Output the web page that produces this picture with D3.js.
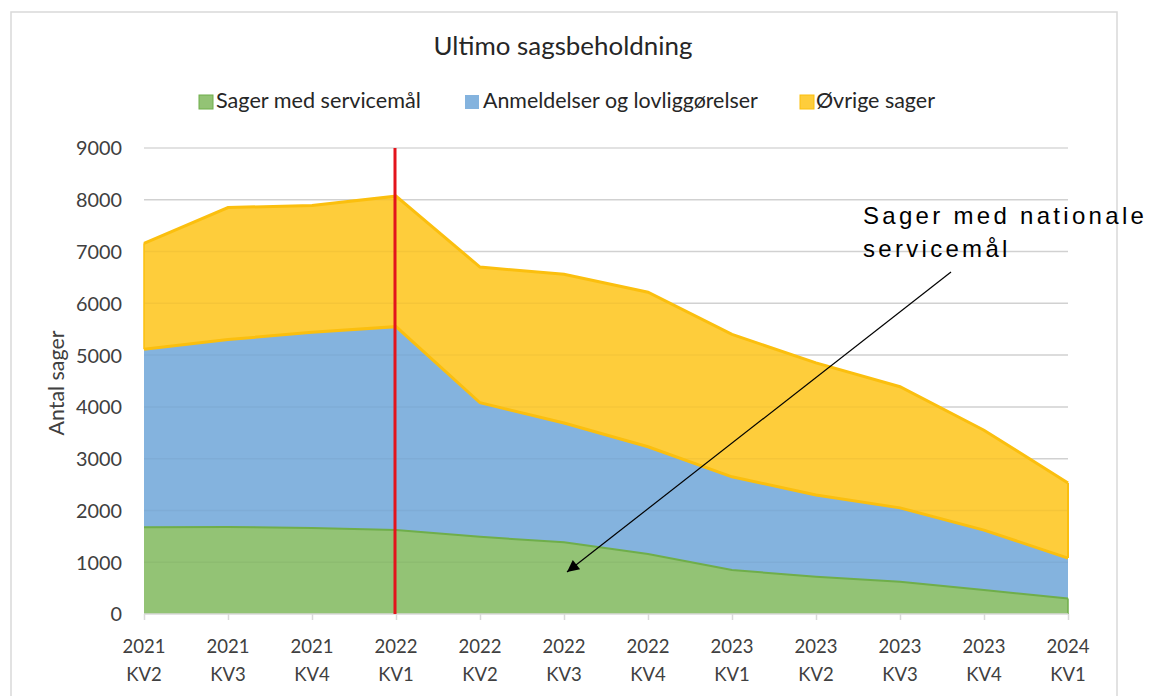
<!DOCTYPE html>
<html>
<head>
<meta charset="utf-8">
<script src="https://cdn.jsdelivr.net/npm/d3@7"></script>
<style>
  html, body { margin: 0; padding: 0; background: #ffffff; }
  svg { display: block; }
</style>
</head>
<body>
<svg id="chart" width="1149" height="696"></svg>
<script>
// ---- Data ----
const years = ["2021", "2021", "2021", "2022", "2022", "2022", "2022", "2023", "2023", "2023", "2023", "2024"];
const quarters = ["KV2", "KV3", "KV4", "KV1", "KV2", "KV3", "KV4", "KV1", "KV2", "KV3", "KV4", "KV1"];
const seriesNames = ["Sager med servicemål", "Anmeldelser og lovliggørelser", "Øvrige sager"];
const servicemaal = [1675, 1680, 1660, 1620, 1490, 1385, 1160, 850, 720, 625, 465, 300];
const anmeldelser = [3440, 3620, 3780, 3930, 2590, 2305, 2070, 1800, 1580, 1425, 1155, 780];
const oevrige = [2045, 2550, 2450, 2520, 2620, 2870, 2985, 2750, 2550, 2340, 1930, 1450];
const yTicks = [0, 1000, 2000, 3000, 4000, 5000, 6000, 7000, 8000, 9000];
const markerIndex = 3; // 2022 KV1
const titleText = "Ultimo sagsbeholdning";
const yAxisTitle = "Antal sager";
const annotationLines = ["Sager med nationale", "servicemål"];

// ---- Setup ----
const svg = d3.select("#chart");
const font = "Lato, 'Open Sans', sans-serif";
const textColor = "#404040";
const fills = ["#93c375", "#84b3de", "#fecd3b"];
const strokes = ["#6fae4a", "#84b3de", "#fbbf0e"];

// scale a text element's font-size so its width matches the target width
function fitWidth(sel, target) {
  const node = sel.node();
  const fs = parseFloat(sel.attr("font-size"));
  const w = node.getComputedTextLength();
  if (w > 0) sel.attr("font-size", (fs * target / w).toFixed(2));
  return sel;
}

const cats = years.map((y, i) => i);
const x = d3.scalePoint().domain(cats).range([144, 1068]);
const y = d3.scaleLinear().domain([0, 9000]).range([614, 148]);

// frame
svg.append("rect")
  .attr("x", 11).attr("y", 12).attr("width", 1106).attr("height", 700)
  .attr("fill", "none").attr("stroke", "#d9d9d9").attr("stroke-width", 1.5);

// title
const title = svg.append("text")
  .attr("x", 563).attr("y", 55)
  .attr("text-anchor", "middle")
  .attr("font-family", font).attr("font-size", 20)
  .attr("fill", "#262626")
  .text(titleText);
fitWidth(title, 259);

// legend
const legendItems = [
  { sq: 199, tx: 216, w: 205 },
  { sq: 465, tx: 483, w: 275 },
  { sq: 800, tx: 816, w: 119 }
];
legendItems.forEach((d, i) => {
  svg.append("rect")
    .attr("x", d.sq).attr("y", 95).attr("width", 14).attr("height", 14)
    .attr("fill", fills[i]).attr("stroke", i === 1 ? "none" : strokes[i]).attr("stroke-width", 1);
  const t = svg.append("text")
    .attr("x", d.tx).attr("y", 108)
    .attr("font-family", font).attr("font-size", 18)
    .attr("fill", "#262626")
    .text(seriesNames[i]);
  fitWidth(t, d.w);
});

// gridlines
svg.append("g").selectAll("line").data(yTicks.filter(t => t > 0)).join("line")
  .attr("x1", 144).attr("x2", 1068)
  .attr("y1", d => y(d)).attr("y2", d => y(d))
  .attr("stroke", "#d9d9d9").attr("stroke-width", 1.5);

// stacked data
const table = cats.map(i => ({ i, s0: servicemaal[i], s1: anmeldelser[i], s2: oevrige[i] }));
const stack = d3.stack().keys(["s0", "s1", "s2"]);
const layers = stack(table);

const area = d3.area()
  .x(d => x(d.data.i))
  .y0(d => y(d[0]))
  .y1(d => y(d[1]));

svg.append("g").selectAll("path.area").data(layers).join("path")
  .attr("class", "area")
  .attr("d", area)
  .attr("fill", (d, i) => fills[i]);

// faint gridlines visible through the fill
svg.append("g").selectAll("line").data(yTicks.filter(t => t > 0 && t < 9000)).join("line")
  .attr("x1", 144).attr("x2", 1068)
  .attr("y1", d => y(d)).attr("y2", d => y(d))
  .attr("stroke", "rgba(0,0,0,0.035)").attr("stroke-width", 1.5);

// edges
const topLine = d3.line().x(d => x(d.data.i)).y(d => y(d[1]));
svg.append("path").attr("d", topLine(layers[0]))
  .attr("fill", "none").attr("stroke", strokes[0]).attr("stroke-width", 2);
svg.append("path").attr("d", topLine(layers[1]))
  .attr("fill", "none").attr("stroke", strokes[2]).attr("stroke-width", 3);
svg.append("path").attr("d", topLine(layers[2]))
  .attr("fill", "none").attr("stroke", strokes[2]).attr("stroke-width", 3);
const last = cats.length - 1;
svg.append("line")
  .attr("x1", x(last)).attr("x2", x(last))
  .attr("y1", y(layers[2][last][1])).attr("y2", y(layers[1][last][1]))
  .attr("stroke", strokes[2]).attr("stroke-width", 2);
svg.append("line")
  .attr("x1", x(last)).attr("x2", x(last))
  .attr("y1", y(layers[0][last][1])).attr("y2", y(0))
  .attr("stroke", strokes[0]).attr("stroke-width", 1.5);
svg.append("line")
  .attr("x1", x(0)).attr("x2", x(0))
  .attr("y1", y(layers[2][0][1])).attr("y2", y(layers[1][0][1]))
  .attr("stroke", strokes[2]).attr("stroke-width", 1.5);

// x axis
const xAxis = d3.axisBottom(x).tickSize(6).tickFormat("");
const gx = svg.append("g").attr("transform", "translate(0,614)").call(xAxis);
gx.select(".domain").attr("stroke", "#d9d9d9").attr("stroke-width", 1.5)
  .attr("d", "M144,0H1068");
gx.selectAll(".tick line").attr("stroke", "#d9d9d9").attr("stroke-width", 1.5);

const xl = svg.append("g").selectAll("g").data(cats).join("g")
  .attr("transform", d => `translate(${x(d)},0)`);
const xlYear = xl.append("text").attr("y", 653).attr("text-anchor", "middle")
  .attr("font-family", font).attr("font-size", 18).attr("fill", textColor)
  .text(d => years[d]);
const xlQ = xl.append("text").attr("y", 681).attr("text-anchor", "middle")
  .attr("font-family", font).attr("font-size", 18).attr("fill", textColor)
  .text(d => quarters[d]);
// fit year labels to reference width and reuse size
fitWidth(d3.select(xlYear.nodes()[0]), 43);
const xfs = d3.select(xlYear.nodes()[0]).attr("font-size");
xlYear.attr("font-size", xfs);
xlQ.attr("font-size", xfs);

// y axis labels
const yAxis = d3.axisLeft(y).tickValues(yTicks).tickSize(0).tickPadding(0).tickFormat(d3.format("d"));
const gy = svg.append("g").attr("transform", "translate(122,0)").call(yAxis);
gy.select(".domain").remove();
gy.selectAll("text").attr("font-family", font).attr("font-size", 18)
  .attr("fill", textColor).attr("dy", "0.35em");
const topLab = gy.selectAll("text").filter(d => d === 9000);
fitWidth(topLab, 46);
gy.selectAll("text").attr("font-size", topLab.attr("font-size"));

// y axis title
const yt = svg.append("text")
  .attr("transform", "translate(64,383) rotate(-90)")
  .attr("text-anchor", "middle")
  .attr("font-family", font).attr("font-size", 18).attr("fill", textColor)
  .text(yAxisTitle);
fitWidth(yt, 105);

// red marker line
svg.append("line")
  .attr("x1", x(markerIndex) - 1).attr("x2", x(markerIndex) - 1)
  .attr("y1", y(9000)).attr("y2", y(0))
  .attr("stroke", "#e3141c").attr("stroke-width", 3);

// annotation
const ann = svg.append("text")
  .attr("font-family", "'Liberation Sans', Arial, sans-serif")
  .attr("font-size", 24).attr("letter-spacing", 3.3).attr("fill", "#000");
ann.append("tspan").attr("x", 863).attr("y", 224).text(annotationLines[0]);
ann.append("tspan").attr("x", 863).attr("y", 257).text(annotationLines[1]);

// arrow
svg.append("defs").append("marker")
  .attr("id", "arrowhead").attr("viewBox", "0 0 10 10")
  .attr("refX", 10).attr("refY", 5)
  .attr("markerWidth", 16).attr("markerHeight", 12)
  .attr("markerUnits", "userSpaceOnUse")
  .attr("orient", "auto")
  .append("path").attr("d", "M0,0L10,5L0,10Z").attr("fill", "#000");
svg.append("line")
  .attr("x1", 951).attr("y1", 272).attr("x2", 567).attr("y2", 572)
  .attr("stroke", "#000").attr("stroke-width", 1.2)
  .attr("marker-end", "url(#arrowhead)");
</script>
</body>
</html>
